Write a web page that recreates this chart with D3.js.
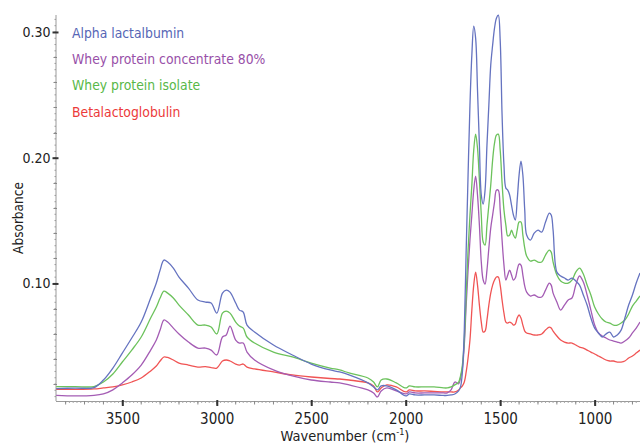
<!DOCTYPE html>
<html>
<head>
<meta charset="utf-8">
<script src="https://cdn.jsdelivr.net/npm/d3@7"></script>
<style>
  html, body { margin: 0; padding: 0; background: #fff; }
  svg { display: block; }
  text { font-family: "DejaVu Sans Condensed", "Liberation Sans Narrow", sans-serif; }
</style>
</head>
<body>
<svg id="chart" width="640" height="445"></svg>
<script>
const wavenumbers = [3850, 3750, 3650, 3600, 3550, 3500, 3450, 3400, 3350, 3320, 3300, 3280, 3260, 3230, 3200, 3150, 3100, 3060, 3030, 3000, 2970, 2950, 2930, 2900, 2880, 2860, 2840, 2800, 2700, 2600, 2500, 2400, 2350, 2300, 2200, 2170, 2150, 2130, 2100, 2050, 2000, 1980, 1950, 1900, 1850, 1800, 1780, 1760, 1740, 1720, 1710, 1700, 1690, 1680, 1670, 1660, 1650, 1640, 1630, 1620, 1610, 1600, 1590, 1580, 1570, 1560, 1550, 1540, 1530, 1520, 1510, 1500, 1490, 1480, 1470, 1460, 1450, 1440, 1430, 1420, 1410, 1400, 1390, 1380, 1370, 1360, 1340, 1320, 1300, 1280, 1260, 1240, 1230, 1220, 1200, 1180, 1160, 1140, 1120, 1100, 1080, 1060, 1040, 1020, 1000, 980, 960, 940, 920, 900, 880, 860, 840, 820, 800, 780, 760];

const alphaLactalbumin = [0.0164, 0.0168, 0.0172, 0.0232, 0.0327, 0.0446, 0.0566, 0.0693, 0.0884, 0.1003, 0.1106, 0.1186, 0.1170, 0.1122, 0.1051, 0.0963, 0.0868, 0.0852, 0.0844, 0.0764, 0.0923, 0.0947, 0.0931, 0.0844, 0.0788, 0.0772, 0.0669, 0.0613, 0.0510, 0.0431, 0.0359, 0.0312, 0.0296, 0.0272, 0.0209, 0.0177, 0.0153, 0.0185, 0.0185, 0.0153, 0.0105, 0.0121, 0.0113, 0.0113, 0.0113, 0.0109, 0.0109, 0.0113, 0.0121, 0.0145, 0.0177, 0.0296, 0.0629, 0.1265, 0.1862, 0.2418, 0.2816, 0.3046, 0.2951, 0.2537, 0.2100, 0.1703, 0.1631, 0.1742, 0.2100, 0.2418, 0.2736, 0.2895, 0.3030, 0.3110, 0.3134, 0.2935, 0.2339, 0.1941, 0.1758, 0.1742, 0.1703, 0.1623, 0.1544, 0.1504, 0.1663, 0.1862, 0.1973, 0.1862, 0.1583, 0.1385, 0.1345, 0.1400, 0.1424, 0.1408, 0.1488, 0.1559, 0.1544, 0.1424, 0.1090, 0.1059, 0.1043, 0.1027, 0.1043, 0.1019, 0.0987, 0.0908, 0.0828, 0.0725, 0.0645, 0.0606, 0.0574, 0.0598, 0.0613, 0.0574, 0.0590, 0.0629, 0.0725, 0.0828, 0.0908, 0.1003, 0.1083];

const wpc80 = [0.0109, 0.0105, 0.0109, 0.0121, 0.0153, 0.0209, 0.0272, 0.0351, 0.0470, 0.0550, 0.0629, 0.0709, 0.0693, 0.0645, 0.0598, 0.0534, 0.0486, 0.0486, 0.0470, 0.0431, 0.0574, 0.0590, 0.0661, 0.0550, 0.0526, 0.0526, 0.0454, 0.0391, 0.0312, 0.0264, 0.0232, 0.0216, 0.0209, 0.0193, 0.0153, 0.0129, 0.0097, 0.0145, 0.0169, 0.0145, 0.0121, 0.0137, 0.0129, 0.0129, 0.0129, 0.0129, 0.0129, 0.0153, 0.0216, 0.0201, 0.0248, 0.0327, 0.0510, 0.0828, 0.1106, 0.1345, 0.1544, 0.1742, 0.1854, 0.1703, 0.1464, 0.1170, 0.1027, 0.0995, 0.1106, 0.1281, 0.1440, 0.1544, 0.1647, 0.1742, 0.1742, 0.1583, 0.1345, 0.1146, 0.1027, 0.1067, 0.1106, 0.1067, 0.1027, 0.1043, 0.1106, 0.1154, 0.1146, 0.1067, 0.0979, 0.0931, 0.0900, 0.0908, 0.0892, 0.0892, 0.0947, 0.1003, 0.0987, 0.0923, 0.0852, 0.0788, 0.0828, 0.0868, 0.0884, 0.0987, 0.1059, 0.1011, 0.0908, 0.0788, 0.0669, 0.0606, 0.0582, 0.0566, 0.0550, 0.0542, 0.0534, 0.0526, 0.0542, 0.0566, 0.0606, 0.0645, 0.0693];

const wpi = [0.0180, 0.0180, 0.0180, 0.0216, 0.0280, 0.0375, 0.0470, 0.0574, 0.0725, 0.0812, 0.0884, 0.0939, 0.0923, 0.0884, 0.0828, 0.0749, 0.0669, 0.0669, 0.0653, 0.0598, 0.0764, 0.0780, 0.0764, 0.0693, 0.0661, 0.0645, 0.0574, 0.0526, 0.0454, 0.0415, 0.0367, 0.0327, 0.0312, 0.0288, 0.0248, 0.0216, 0.0177, 0.0232, 0.0240, 0.0209, 0.0169, 0.0185, 0.0177, 0.0177, 0.0177, 0.0169, 0.0169, 0.0177, 0.0193, 0.0216, 0.0264, 0.0351, 0.0550, 0.0908, 0.1265, 0.1544, 0.1782, 0.2060, 0.2187, 0.2076, 0.1822, 0.1544, 0.1329, 0.1305, 0.1464, 0.1623, 0.1782, 0.1981, 0.2116, 0.2179, 0.2187, 0.2060, 0.1798, 0.1583, 0.1464, 0.1377, 0.1385, 0.1424, 0.1385, 0.1361, 0.1424, 0.1488, 0.1488, 0.1385, 0.1281, 0.1218, 0.1178, 0.1186, 0.1170, 0.1170, 0.1226, 0.1265, 0.1249, 0.1170, 0.1067, 0.1019, 0.1003, 0.1003, 0.1027, 0.1090, 0.1122, 0.1075, 0.0987, 0.0908, 0.0812, 0.0757, 0.0717, 0.0693, 0.0685, 0.0669, 0.0669, 0.0685, 0.0709, 0.0757, 0.0820, 0.0860, 0.0900];

const betalactoglobulin = [0.0157, 0.0157, 0.0161, 0.0169, 0.0177, 0.0193, 0.0216, 0.0248, 0.0304, 0.0343, 0.0383, 0.0415, 0.0411, 0.0391, 0.0367, 0.0351, 0.0335, 0.0339, 0.0331, 0.0327, 0.0383, 0.0391, 0.0383, 0.0359, 0.0351, 0.0359, 0.0335, 0.0320, 0.0296, 0.0272, 0.0256, 0.0244, 0.0240, 0.0232, 0.0209, 0.0185, 0.0137, 0.0169, 0.0193, 0.0177, 0.0137, 0.0153, 0.0145, 0.0145, 0.0141, 0.0137, 0.0137, 0.0137, 0.0137, 0.0153, 0.0169, 0.0185, 0.0216, 0.0296, 0.0407, 0.0550, 0.0788, 0.0987, 0.1090, 0.0987, 0.0828, 0.0693, 0.0613, 0.0621, 0.0709, 0.0828, 0.0923, 0.0987, 0.1027, 0.1051, 0.1051, 0.0987, 0.0868, 0.0764, 0.0693, 0.0685, 0.0693, 0.0685, 0.0669, 0.0677, 0.0725, 0.0749, 0.0725, 0.0669, 0.0621, 0.0606, 0.0598, 0.0590, 0.0590, 0.0598, 0.0629, 0.0653, 0.0645, 0.0621, 0.0582, 0.0550, 0.0534, 0.0526, 0.0526, 0.0510, 0.0494, 0.0486, 0.0470, 0.0454, 0.0439, 0.0423, 0.0407, 0.0391, 0.0383, 0.0383, 0.0375, 0.0375, 0.0383, 0.0407, 0.0423, 0.0446, 0.0470];

const seriesNames = ["Alpha lactalbumin", "Whey protein concentrate 80%", "Whey protein isolate", "Betalactoglobulin"];
const seriesValues = [alphaLactalbumin, wpc80, wpi, betalactoglobulin];
const lineColors = ["#6573c0", "#a45cb4", "#6cc25c", "#f05454"];
const legendColors = ["#5666b6", "#9850a8", "#58b848", "#ec3a3a"];
const yTickLabels = [0.10, 0.20, 0.30];
const xTickLabels = [3500, 3000, 2500, 2000, 1500, 1000];

const svg = d3.select("#chart");
const x = d3.scaleLinear().domain([3851, 760]).range([56, 640]);
const y = d3.scaleLinear().domain([0.0065, 0.3135]).range([401, 15]);

svg.append("clipPath").attr("id", "clip").append("rect")
  .attr("x", 56).attr("y", 0).attr("width", 584).attr("height", 401);

// y axis
const yAxisG = svg.append("g");
yAxisG.append("line").attr("x1", 56).attr("x2", 56).attr("y1", 15).attr("y2", 401)
  .attr("stroke", "#9a9a9a").attr("stroke-width", 1);
d3.range(0.01, 0.3135, 0.005).forEach(v => {
  yAxisG.append("line").attr("x1", 54.5).attr("x2", 56).attr("y1", y(v)).attr("y2", y(v))
    .attr("stroke", "#999").attr("stroke-width", 1);
});
d3.range(0.02, 0.31, 0.02).forEach(v => {
  yAxisG.append("line").attr("x1", 53.5).attr("x2", 57).attr("y1", Math.round(y(v)) + 0.5).attr("y2", Math.round(y(v)) + 0.5)
    .attr("stroke", "#888").attr("stroke-width", 1);
});
const yAxis = d3.axisLeft(y).tickValues(yTickLabels).tickFormat(d3.format(".2f")).tickSize(6).tickPadding(2);
const yg = svg.append("g").attr("transform", "translate(58.5,0)").call(yAxis);
yg.select(".domain").remove();
yg.selectAll(".tick line").attr("stroke", "#333").attr("stroke-width", 2);
yg.selectAll(".tick text").attr("font-size", 14).attr("fill", "#222")
  .attr("font-family", "'DejaVu Sans Condensed', sans-serif");

// x axis
const xAxisG = svg.append("g");
xAxisG.append("line").attr("x1", 56).attr("x2", 640).attr("y1", 401.5).attr("y2", 401.5)
  .attr("stroke", "#9a9a9a").attr("stroke-width", 1);
d3.range(3800, 760, -20).forEach(w => {
  xAxisG.append("line").attr("x1", x(w)).attr("x2", x(w)).attr("y1", 401.5).attr("y2", 403)
    .attr("stroke", "#aaa").attr("stroke-width", 1);
});
d3.range(3800, 760, -100).forEach(w => {
  xAxisG.append("line").attr("x1", x(w)).attr("x2", x(w)).attr("y1", 401).attr("y2", 404.5)
    .attr("stroke", "#888").attr("stroke-width", 1);
});
const xAxis = d3.axisBottom(x).tickValues(xTickLabels).tickFormat(d3.format("d")).tickSize(6).tickPadding(7);
const xg = svg.append("g").attr("transform", "translate(0,400)").call(xAxis);
xg.select(".domain").remove();
xg.selectAll(".tick line").attr("stroke", "#333").attr("stroke-width", 2);
xg.selectAll(".tick text").attr("font-size", 15).attr("fill", "#222")
  .attr("font-family", "'DejaVu Sans Condensed', sans-serif");

// axis titles
const xt = svg.append("text").attr("x", 345).attr("y", 441).attr("text-anchor", "middle")
  .attr("font-size", 14.5).attr("fill", "#222");
xt.append("tspan").text("Wavenumber (cm");
xt.append("tspan").attr("font-size", 9).attr("dy", -6).text("-1");
xt.append("tspan").attr("dy", 6).text(")");

svg.append("text").attr("transform", "translate(23,218) rotate(-90)")
  .attr("text-anchor", "middle").attr("font-size", 13.5).attr("fill", "#222").text("Absorbance");

// lines
const line = d3.line().x(d => x(d[0])).y(d => y(d[1])).curve(d3.curveCatmullRom.alpha(0.5));
const linesG = svg.append("g").attr("clip-path", "url(#clip)");
[3, 1, 2, 0].forEach(i => {
  const pts = wavenumbers.map((w, j) => [w, seriesValues[i][j]]);
  linesG.append("path").datum(pts).attr("d", line)
    .attr("fill", "none").attr("stroke", lineColors[i]).attr("stroke-width", 1.3)
    .attr("stroke-linejoin", "round");
});

// legend
const legendY = [38, 64, 90, 117];
seriesNames.forEach((name, i) => {
  svg.append("text").attr("x", 72).attr("y", legendY[i]).attr("font-size", 13.8)
    .attr("fill", legendColors[i]).text(name);
});
</script>
</body>
</html>
